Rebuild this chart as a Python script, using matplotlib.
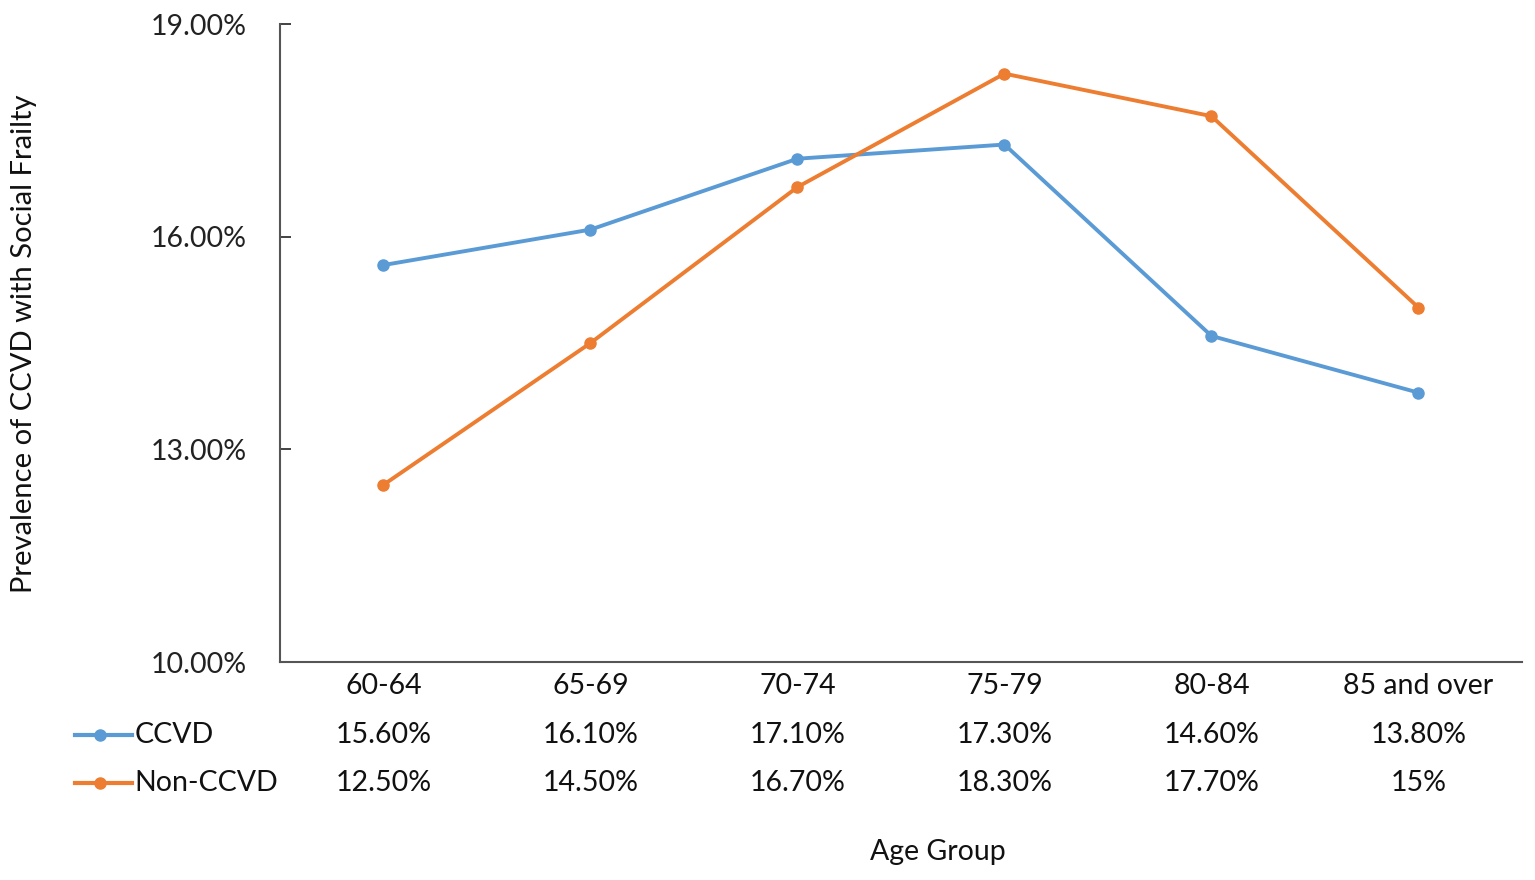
import matplotlib.pyplot as plt
from matplotlib.ticker import FuncFormatter

plt.rcParams['font.family'] = ['Lato', 'DejaVu Sans']

age_groups = ["60-64", "65-69", "70-74", "75-79", "80-84", "85 and over"]
ccvd = [15.6, 16.1, 17.1, 17.3, 14.6, 13.8]
non_ccvd = [12.5, 14.5, 16.7, 18.3, 17.7, 15.0]
ccvd_labels = ["15.60%", "16.10%", "17.10%", "17.30%", "14.60%", "13.80%"]
non_ccvd_labels = ["12.50%", "14.50%", "16.70%", "18.30%", "17.70%", "15%"]
y_ticks = [10, 13, 16, 19]

blue = "#5B9BD5"
orange = "#ED7D31"
fs = 20.5

fig = plt.figure(figsize=(15.35, 8.8), dpi=100)
ax = fig.add_axes([0.1824, 0.2477, 0.8091, 0.725])

x = list(range(len(age_groups)))
ax.plot(x, ccvd, color=blue, lw=2.8, marker='o', markersize=8, label="CCVD")
ax.plot(x, non_ccvd, color=orange, lw=2.8, marker='o', markersize=8, label="Non-CCVD")

ax.set_xlim(-0.5, len(age_groups) - 0.5)
ax.set_ylim(10, 19)
ax.set_yticks(y_ticks)
ax.yaxis.set_major_formatter(FuncFormatter(lambda v, p: "%.2f%%" % v))
ax.tick_params(axis='y', direction='in', length=8, width=1.2, pad=24, labelsize=fs, colors='#222222')
ax.set_xticks([])
for s in ["top", "right"]:
    ax.spines[s].set_visible(False)
for s in ["left", "bottom"]:
    ax.spines[s].set_color("#555555")
    ax.spines[s].set_linewidth(1.5)

# data table below the plot
trans = ax.get_xaxis_transform()
rows = [(-0.038, age_groups), (-0.114, ccvd_labels), (-0.190, non_ccvd_labels)]
for yy, labels in rows:
    for i, lab in enumerate(labels):
        ax.text(i, yy, lab, transform=trans, ha='center', va='center', fontsize=fs, color='#111111')

for yy, col, name in [(-0.114, blue, "CCVD"), (-0.190, orange, "Non-CCVD")]:
    ax.plot([-0.165, -0.119], [yy, yy], transform=ax.transAxes, color=col, lw=3, clip_on=False)
    ax.plot([-0.145], [yy], transform=ax.transAxes, color=col, marker='o', markersize=8, clip_on=False)
    ax.text(-0.117, yy, name, transform=ax.transAxes, ha='left', va='center', fontsize=fs, color='#111111')

ax.text(0.53, -0.298, "Age Group", transform=ax.transAxes, ha='center', va='center', fontsize=fs, color='#111111')
fig.text(0.0155, 0.609, "Prevalence of CCVD with Social Frailty", rotation=90, ha='center', va='center',
         fontsize=fs + 0.5, color='#111111')

plt.savefig("out.png", dpi=100)
